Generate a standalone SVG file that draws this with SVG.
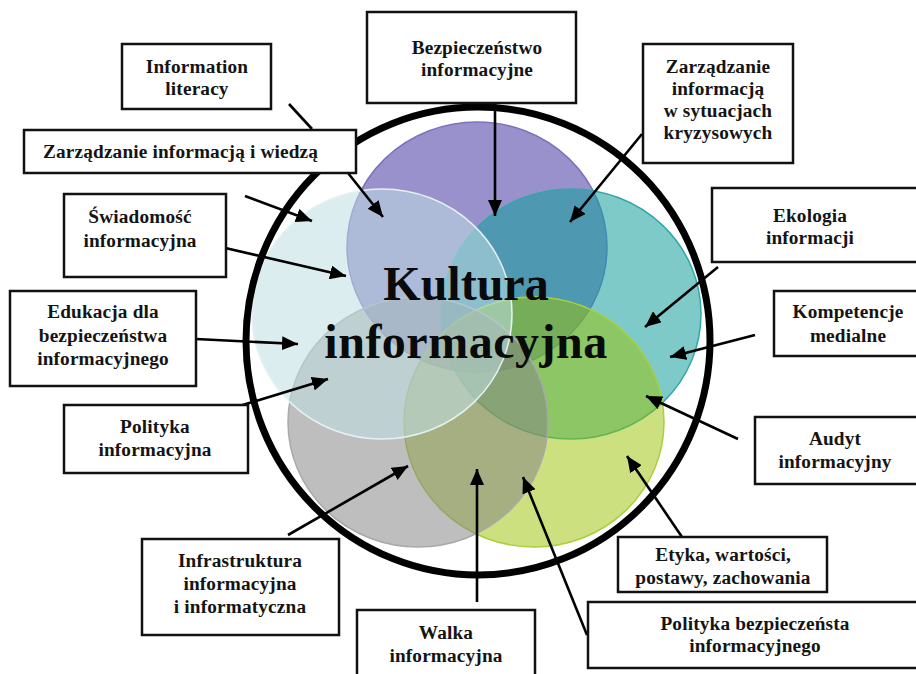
<svg xmlns="http://www.w3.org/2000/svg" width="916" height="674" viewBox="0 0 916 674">
<style>
.box{fill:#fff;stroke:#111;stroke-width:2.5}
.t{font-family:"Liberation Serif","Times New Roman",serif;font-weight:bold;font-size:19.3px;text-anchor:middle;fill:#141414;letter-spacing:0.15px}
.big{font-family:"Liberation Serif","Times New Roman",serif;font-weight:bold;font-size:48px;text-anchor:middle;fill:#0a0a0a}
.conn line{stroke:#000;stroke-width:2.6;marker-end:url(#ah)}
.c{stroke-width:1.5}
</style>
<defs>
<marker id="ah" markerUnits="userSpaceOnUse" markerWidth="18" markerHeight="14" refX="16" refY="7" orient="auto">
<path d="M0,0 L16,7 L0,14 z" fill="#000"/>
</marker>
</defs>
<rect width="916" height="674" fill="#fff"/>
<g id="venn">
<ellipse class="c" cx="477" cy="247" rx="130" ry="125" fill="#9891cc" stroke="#7a72bd"/>
<ellipse class="c" cx="571" cy="314" rx="130" ry="125" fill="#149e9d" fill-opacity="0.55" stroke="#33a6a8"/>
<ellipse class="c" cx="534" cy="422" rx="130" ry="125" fill="#9bc100" fill-opacity="0.5" stroke="#a8cf3c"/>
<ellipse class="c" cx="418" cy="422" rx="130" ry="125" fill="#848484" fill-opacity="0.53" stroke="#a9a9a9"/>
<ellipse class="c" cx="382" cy="314" rx="130" ry="125" fill="#bfdee4" fill-opacity="0.55" stroke="#e4f1f3"/>
</g>
<g id="ring">
<ellipse cx="478" cy="341" rx="232" ry="234" fill="none" stroke="#000" stroke-width="7"/>
</g>
<g id="center">
<text class="big" x="466" y="300">Kultura</text>
<text class="big" x="466" y="358" letter-spacing="0.5">informacyjna</text>
</g>
<g id="connectors" class="conn">
<line x1="289" y1="104" x2="312" y2="129" style="marker-end:none"/>
<line x1="348" y1="173" x2="383" y2="217"/>
<line x1="245" y1="196" x2="312" y2="221"/>
<line x1="195" y1="241" x2="346" y2="276"/>
<line x1="196" y1="339" x2="298" y2="344"/>
<line x1="233" y1="408" x2="328" y2="379"/>
<line x1="288" y1="535" x2="408" y2="466"/>
<line x1="477" y1="602" x2="477" y2="469"/>
<line x1="587" y1="635" x2="523" y2="477"/>
<line x1="682" y1="537" x2="627" y2="456"/>
<line x1="738" y1="439" x2="646" y2="396"/>
<line x1="755" y1="335" x2="670" y2="357"/>
<line x1="718" y1="267" x2="645" y2="327"/>
<line x1="642" y1="134" x2="570" y2="222"/>
<line x1="495" y1="103" x2="495" y2="216"/>
</g>
<g id="n-information-literacy">
<rect class="box" x="122" y="44" width="149" height="65"/>
<text class="t" x="197" y="73">Information</text>
<text class="t" x="197" y="95">literacy</text>
</g>
<g id="n-zarzadzanie-wiedza">
<rect class="box" x="24" y="130" width="332" height="43"/>
<text class="t" x="43" y="158" style="text-anchor:start">Zarządzanie informacją i wiedzą</text>
</g>
<g id="n-swiadomosc">
<rect class="box" x="64" y="194" width="162" height="83"/>
<text class="t" x="140" y="223">Świadomość</text>
<text class="t" x="140" y="247">informacyjna</text>
</g>
<g id="n-bezpieczenstwo">
<rect class="box" x="367" y="12" width="209" height="91"/>
<text class="t" x="477" y="54">Bezpieczeństwo</text>
<text class="t" x="477" y="76">informacyjne</text>
</g>
<g id="n-kryzys">
<rect class="box" x="643" y="44" width="150" height="119"/>
<text class="t" x="718" y="73">Zarządzanie</text>
<text class="t" x="718" y="95">informacją</text>
<text class="t" x="718" y="117">w sytuacjach</text>
<text class="t" x="718" y="139">kryzysowych</text>
</g>
<g id="n-ekologia">
<rect class="box" x="712" y="188" width="210" height="74"/>
<text class="t" x="810" y="222">Ekologia</text>
<text class="t" x="810" y="244">informacji</text>
</g>
<g id="n-kompetencje">
<rect class="box" x="774" y="291" width="148" height="65"/>
<text class="t" x="848" y="318">Kompetencje</text>
<text class="t" x="848" y="342">medialne</text>
</g>
<g id="n-edukacja">
<rect class="box" x="10" y="291" width="186" height="95"/>
<text class="t" x="103" y="318">Edukacja dla</text>
<text class="t" x="103" y="342">bezpieczeństwa</text>
<text class="t" x="103" y="365">informacyjnego</text>
</g>
<g id="n-polityka-inf">
<rect class="box" x="64" y="405" width="184" height="68"/>
<text class="t" x="155" y="433">Polityka</text>
<text class="t" x="155" y="456">informacyjna</text>
</g>
<g id="n-infrastruktura">
<rect class="box" x="142" y="539" width="197" height="96"/>
<text class="t" x="240" y="567">Infrastruktura</text>
<text class="t" x="240" y="590">informacyjna</text>
<text class="t" x="240" y="613">i informatyczna</text>
</g>
<g id="n-walka">
<rect class="box" x="357" y="610" width="178" height="70"/>
<text class="t" x="446" y="639">Walka</text>
<text class="t" x="446" y="662">informacyjna</text>
</g>
<g id="n-etyka">
<rect class="box" x="618" y="537" width="209" height="55"/>
<text class="t" x="723" y="561">Etyka, wartości,</text>
<text class="t" x="723" y="584">postawy, zachowania</text>
</g>
<g id="n-audyt">
<rect class="box" x="755" y="417" width="167" height="67"/>
<text class="t" x="835" y="445">Audyt</text>
<text class="t" x="835" y="468">informacyjny</text>
</g>
<g id="n-polityka-bezp">
<rect class="box" x="588" y="602" width="334" height="66"/>
<text class="t" x="755" y="630">Polityka bezpieczeństa</text>
<text class="t" x="755" y="652">informacyjnego</text>
</g>
</svg>
